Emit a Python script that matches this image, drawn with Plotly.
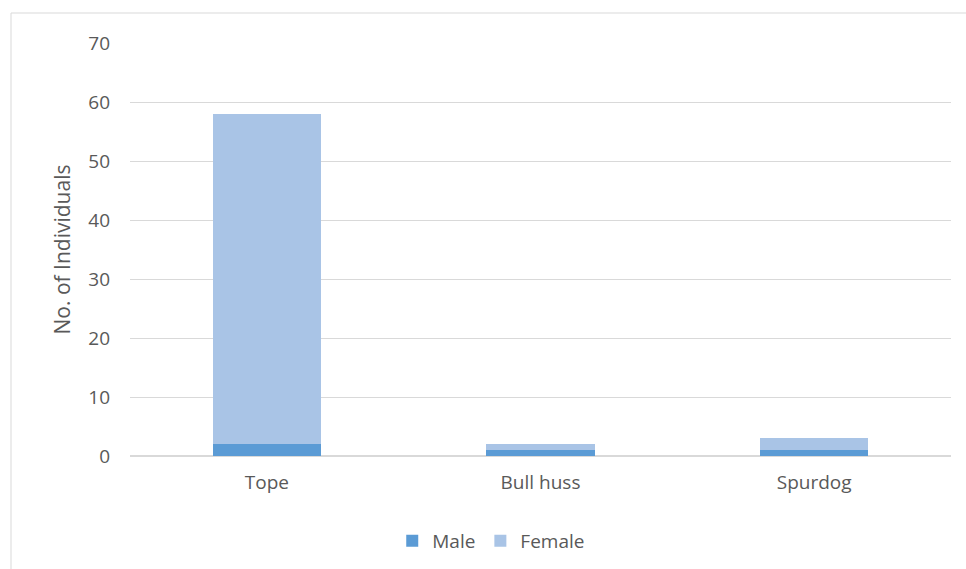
import plotly.graph_objects as go

categories = ["Tope", "Bull huss", "Spurdog"]
male = [2, 1, 1]
female = [56, 1, 2]
y_ticks = [0, 10, 20, 30, 40, 50, 60, 70]

W, H = 966, 569
L, R, T, B = 130, 15, 43, 113
pw, ph = W - L - R, H - T - B

fig = go.Figure()
fig.add_trace(go.Bar(name="Male", x=categories, y=male, marker=dict(color="#5B9BD5", line=dict(width=0))))
fig.add_trace(go.Bar(name="Female", x=categories, y=female, marker=dict(color="#A9C4E6", line=dict(width=0))))

font = "'Open Sans', 'Liberation Sans', sans-serif"
fig.update_layout(
    width=W, height=H,
    barmode="stack", bargap=0.605,
    margin=dict(l=L, r=R, t=T, b=B, autoexpand=False),
    paper_bgcolor="white", plot_bgcolor="white",
    font=dict(family=font, size=19, color="#595959"),
    showlegend=True,
    legend=dict(orientation="h", x=0.44, xanchor="center", yref="container", y=(H - 541) / H,
                yanchor="middle", font=dict(size=19, color="#595959"), traceorder="normal"),
    xaxis=dict(showgrid=False, showline=False, ticks="", ticklabelstandoff=13, automargin=False,
               tickfont=dict(size=19, color="#595959")),
    yaxis=dict(range=[0, 70], tickvals=y_ticks, showgrid=True, gridcolor="#D9D9D9", gridwidth=1,
               zeroline=True, zerolinecolor="#D9D9D9", zerolinewidth=1.5, automargin=False,
               ticks="", ticklen=0, ticklabelstandoff=19, tickfont=dict(size=19, color="#595959"),
               title=dict(text="No. of Individuals", font=dict(size=21, color="#595959"), standoff=11)),
    shapes=[dict(type="rect", xref="paper", yref="paper",
                 x0=(11 - L) / pw, x1=(W + 5 - L) / pw,
                 y0=-(B + 5) / ph, y1=1 + (T - 13) / ph,
                 line=dict(color="#D9D9D9", width=1), layer="below")],
)
fig.write_html("out.html")
